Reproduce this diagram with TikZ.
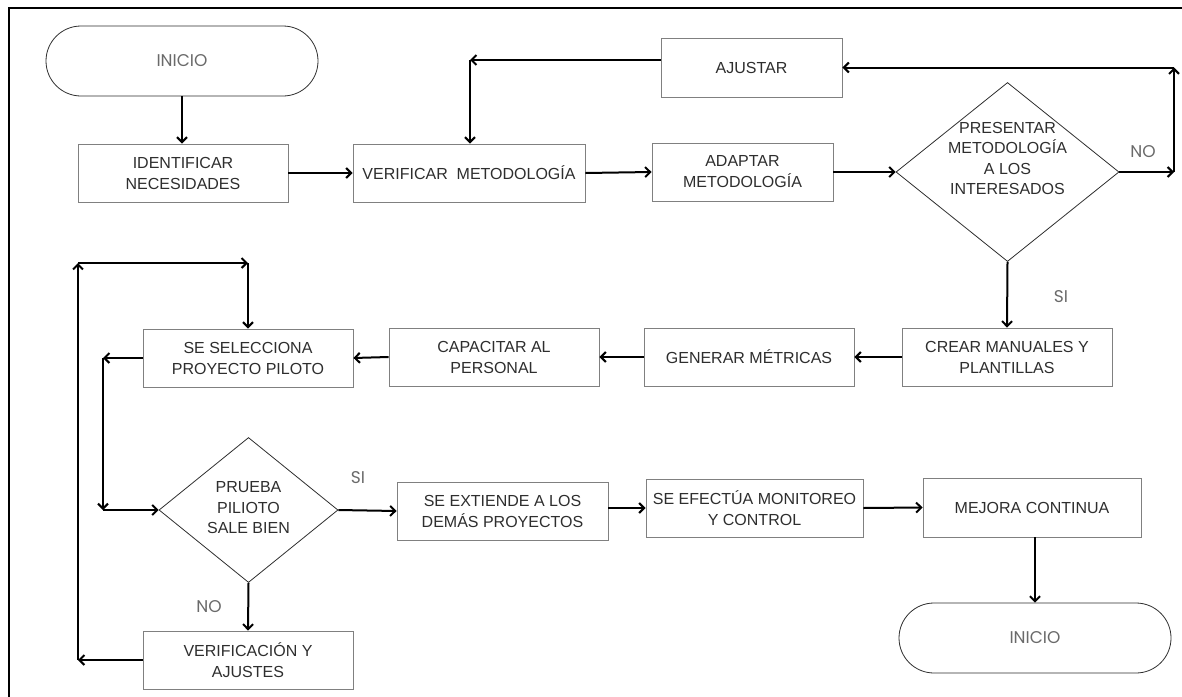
\documentclass[tikz,border=0pt]{standalone}
\usepackage{fontspec}
\setmainfont{Liberation Sans}
\newfontfamily\labelfont{Poppins}
\usetikzlibrary{arrows.meta,shapes.geometric,calc}
\definecolor{boxline}{HTML}{808080}
\definecolor{boxtext}{HTML}{2E2E2E}
\definecolor{softtext}{HTML}{6A6A6A}

\begin{document}
\begin{tikzpicture}[x=1pt,y=-1pt,
  stepbox/.style={draw=boxline, line width=0.9pt, fill=white, text=boxtext,
    font=\fontsize{16}{21}\selectfont, align=center, inner sep=0pt,
    minimum width=210pt, minimum height=58pt},
  decision/.style={diamond, draw=boxtext, line width=0.8pt, inner sep=0pt},
  decisiontext/.style={text=boxtext, font=\fontsize{16}{20.5}\selectfont, align=center, inner sep=0pt},
  terminal/.style={draw=boxtext, line width=0.8pt, rounded corners=35pt,
    minimum width=272pt, minimum height=70pt, inner sep=0pt, text=softtext,
    font=\labelfont\fontsize{17}{20}\selectfont},
  flow/.style={line width=2pt, -{Straight Barb[length=5pt,width=10pt]}},
  answer/.style={text=softtext, font=\labelfont\fontsize{17}{20}\selectfont, inner sep=0pt},
]
\useasboundingbox (0,0) rectangle (1182,696);

% page frame
\draw[line width=2pt] (9,710) -- (9,8) -- (1195,8);

% first row
\node[terminal] (inicio) at (182,61) {INICIO};
\node[stepbox] (identificar) at (183,173) {IDENTIFICAR\\NECESIDADES};
\node[stepbox, minimum width=232pt] (verificar) at (469,173) {VERIFICAR\ \ METODOLOGÍA};
\node[stepbox, minimum width=181pt] (adaptar) at (742.5,172) {ADAPTAR\\METODOLOGÍA};
\node[stepbox, minimum width=181pt, minimum height=59pt] (ajustar) at (751.5,67.5) {AJUSTAR};
\node[decision, minimum width=223pt, minimum height=179pt] (presentar) at (1007.5,172) {};
\node[decisiontext] (presentartxt) at (1007.5,158.5) {PRESENTAR\\METODOLOGÍA\\A LOS\\INTERESADOS};

% second row
\node[stepbox] (crear) at (1007,357) {CREAR MANUALES Y\\PLANTILLAS};
\node[stepbox] (generar) at (749,357) {GENERAR MÉTRICAS};
\node[stepbox] (capacitar) at (494,357) {CAPACITAR AL\\PERSONAL};
\node[stepbox] (selecciona) at (248,358) {SE SELECCIONA\\PROYECTO PILOTO};

% third row
\node[decision, minimum width=179pt, minimum height=145pt] (prueba) at (248.5,510) {};
\node[decisiontext] (pruebatxt) at (248.5,508) {PRUEBA\\PILIOTO\\SALE BIEN};
\node[stepbox, minimum width=211pt] (extiende) at (502.5,511) {SE EXTIENDE A LOS\\DEMÁS PROYECTOS};
\node[stepbox, minimum width=217pt] (efectua) at (754.5,508) {SE EFECTÚA MONITOREO\\Y CONTROL};
\node[stepbox, minimum width=218pt, minimum height=59pt] (mejora) at (1032,507.5) {MEJORA CONTINUA};
\node[stepbox] (verificacion) at (248,660) {VERIFICACIÓN Y\\AJUSTES};
\node[terminal] (fin) at (1035,638) {INICIO};

% bend points of the loops
\coordinate (noA) at (1174,172);
\coordinate (noB) at (1174,67.5);
\coordinate (ajA) at (470,60);
\coordinate (selA) at (103,358);
\coordinate (selB) at (103,510);
\coordinate (verA) at (78,660);
\coordinate (verB) at (78,263);
\coordinate (verC) at (248,263);

% main flow
\draw[flow] (inicio.south) -- (inicio.south |- identificar.north);
\draw[flow] (identificar.east) -- (verificar.west);
\draw[flow] (verificar.east) -- (adaptar.west);
\draw[flow] (adaptar.east) -- (presentar.west);
\draw[flow] (presentar.south) -- (crear.north);
\draw[flow] (crear.west) -- (generar.east);
\draw[flow] (generar.west) -- (capacitar.east);
\draw[flow] (capacitar.west) -- (selecciona.east);
\draw[flow] (prueba.east) -- (extiende.west);
\draw[flow] (extiende.east |- efectua.west) -- (efectua.west);
\draw[flow] (efectua.east) -- (mejora.west);
\draw[flow] (fin.north |- mejora.south) -- (fin.north);
\draw[flow] (prueba.south) -- (verificacion.north);

% NO branch back to AJUSTAR and VERIFICAR
\draw[flow] (presentar.east) -- (noA);
\draw[flow] (noA) -- (noB);
\draw[flow] (noB) -- (ajustar.east);
\draw[flow] (ajustar.west |- ajA) -- (ajA);
\draw[flow] (ajA) -- (ajA |- verificar.north);

% pilot project into the test
\draw[flow] (selecciona.west) -- (selA);
\draw[flow] (selA) -- (selB);
\draw[flow] (selB) -- (prueba.west);

% adjustment loop
\draw[flow] (verificacion.west) -- (verA);
\draw[flow] (verA) -- (verB);
\draw[flow] (verB) -- (verC);
\draw[flow] (verC) -- (selecciona.north);

% answers
\node[answer] (noP) at (1143,152) {NO};
\node[answer] (siP) at (1061,297) {SI};
\node[answer] (siT) at (358,478) {SI};
\node[answer] (noT) at (209,607) {NO};
\end{tikzpicture}
\end{document}
